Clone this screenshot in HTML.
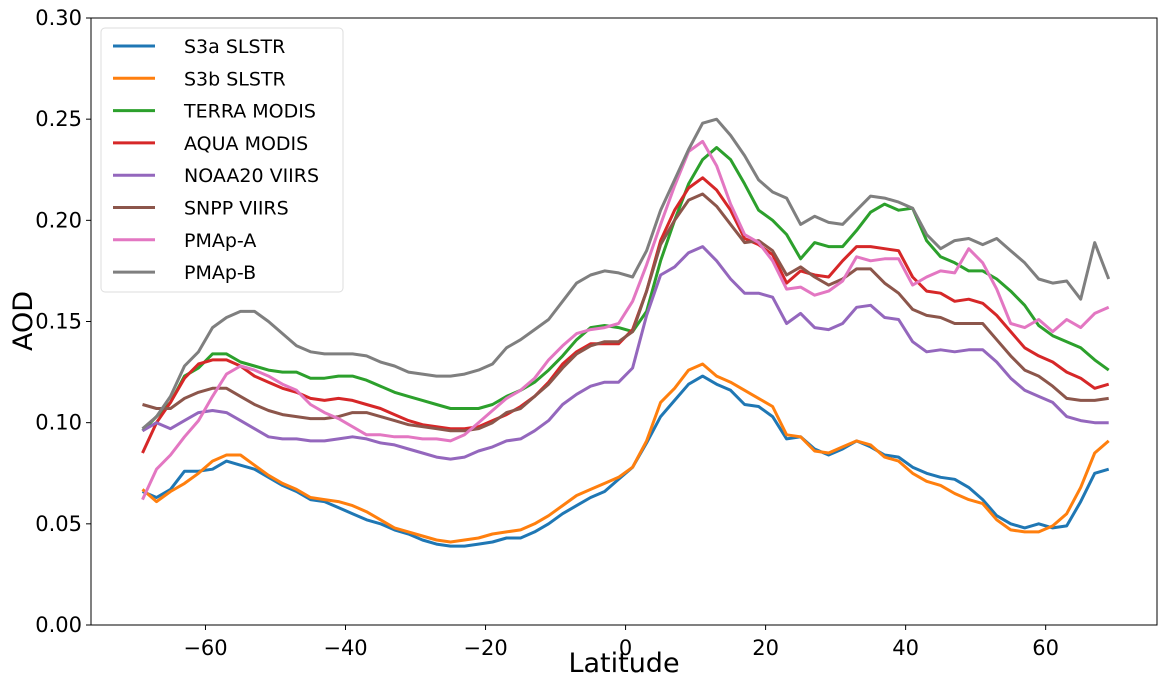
<!DOCTYPE html>
<html><head><meta charset="utf-8"><style>
body{margin:0;background:#fff;}
svg text{font-family:"DejaVu Sans","Liberation Sans",sans-serif;fill:#000;}
</style></head><body>
<svg id="chart" width="1168" height="683" xmlns="http://www.w3.org/2000/svg">
<g id="grid"></g>
<g id="series"></g>
<g id="axes"></g>
<g id="legend"></g>
</svg>
<script>
const lats = [];
for (let l = -69; l <= 69; l += 2) lats.push(l);
const seriesNames = ["S3a SLSTR","S3b SLSTR","TERRA MODIS","AQUA MODIS","NOAA20 VIIRS","SNPP VIIRS","PMAp-A","PMAp-B"];
const seriesColors = ["#1f77b4","#ff7f0e","#2ca02c","#d62728","#9467bd","#8c564b","#e377c2","#7f7f7f"];
const s3a = [0.066,0.063,0.067,0.076,0.076,0.077,0.081,0.079,0.077,0.073,0.069,0.066,0.062,0.061,0.058,0.055,0.052,0.050,0.047,0.045,0.042,0.040,0.039,0.039,0.040,0.041,0.043,0.043,0.046,0.050,0.055,0.059,0.063,0.066,0.072,0.078,0.090,0.103,0.111,0.119,0.123,0.119,0.116,0.109,0.108,0.103,0.092,0.093,0.087,0.084,0.087,0.091,0.088,0.084,0.083,0.078,0.075,0.073,0.072,0.068,0.062,0.054,0.050,0.048,0.050,0.048,0.049,0.061,0.075,0.077];
const s3b = [0.067,0.061,0.066,0.070,0.075,0.081,0.084,0.084,0.079,0.074,0.070,0.067,0.063,0.062,0.061,0.059,0.056,0.052,0.048,0.046,0.044,0.042,0.041,0.042,0.043,0.045,0.046,0.047,0.050,0.054,0.059,0.064,0.067,0.070,0.073,0.078,0.091,0.110,0.117,0.126,0.129,0.123,0.120,0.116,0.112,0.108,0.094,0.093,0.086,0.085,0.088,0.091,0.089,0.083,0.081,0.075,0.071,0.069,0.065,0.062,0.060,0.052,0.047,0.046,0.046,0.049,0.055,0.068,0.085,0.091];
const terra = [0.096,0.103,0.110,0.123,0.127,0.134,0.134,0.130,0.128,0.126,0.125,0.125,0.122,0.122,0.123,0.123,0.121,0.118,0.115,0.113,0.111,0.109,0.107,0.107,0.107,0.109,0.113,0.116,0.120,0.126,0.133,0.141,0.147,0.148,0.147,0.145,0.155,0.180,0.200,0.218,0.230,0.236,0.230,0.218,0.205,0.200,0.193,0.181,0.189,0.187,0.187,0.195,0.204,0.208,0.205,0.206,0.190,0.182,0.179,0.175,0.175,0.171,0.165,0.158,0.148,0.143,0.140,0.137,0.131,0.126];
const aqua = [0.085,0.100,0.110,0.122,0.129,0.131,0.131,0.128,0.123,0.120,0.117,0.115,0.112,0.111,0.112,0.111,0.109,0.107,0.104,0.101,0.099,0.098,0.097,0.097,0.098,0.101,0.104,0.108,0.113,0.120,0.129,0.135,0.139,0.139,0.139,0.146,0.165,0.190,0.205,0.216,0.221,0.215,0.205,0.191,0.188,0.183,0.169,0.175,0.173,0.172,0.180,0.187,0.187,0.186,0.185,0.172,0.165,0.164,0.160,0.161,0.159,0.153,0.145,0.137,0.133,0.130,0.125,0.122,0.117,0.119];
const noaa20 = [0.096,0.100,0.097,0.101,0.105,0.106,0.105,0.101,0.097,0.093,0.092,0.092,0.091,0.091,0.092,0.093,0.092,0.090,0.089,0.087,0.085,0.083,0.082,0.083,0.086,0.088,0.091,0.092,0.096,0.101,0.109,0.114,0.118,0.120,0.120,0.127,0.153,0.173,0.177,0.184,0.187,0.180,0.171,0.164,0.164,0.162,0.149,0.154,0.147,0.146,0.149,0.157,0.158,0.152,0.151,0.140,0.135,0.136,0.135,0.136,0.136,0.130,0.122,0.116,0.113,0.110,0.103,0.101,0.100,0.100];
const snpp = [0.109,0.107,0.107,0.112,0.115,0.117,0.117,0.113,0.109,0.106,0.104,0.103,0.102,0.102,0.103,0.105,0.105,0.103,0.101,0.099,0.098,0.097,0.096,0.096,0.097,0.100,0.105,0.107,0.113,0.119,0.127,0.134,0.138,0.140,0.140,0.145,0.165,0.188,0.200,0.210,0.213,0.207,0.198,0.189,0.190,0.185,0.173,0.177,0.172,0.168,0.171,0.176,0.176,0.169,0.164,0.156,0.153,0.152,0.149,0.149,0.149,0.141,0.133,0.126,0.123,0.118,0.112,0.111,0.111,0.112];
const pmapA = [0.062,0.077,0.084,0.093,0.101,0.113,0.124,0.128,0.126,0.123,0.119,0.116,0.109,0.105,0.102,0.098,0.094,0.094,0.093,0.093,0.092,0.092,0.091,0.094,0.100,0.106,0.112,0.116,0.122,0.131,0.138,0.144,0.146,0.147,0.149,0.160,0.178,0.198,0.217,0.234,0.239,0.227,0.208,0.193,0.189,0.180,0.166,0.167,0.163,0.165,0.170,0.182,0.180,0.181,0.181,0.168,0.172,0.175,0.174,0.186,0.179,0.166,0.149,0.147,0.151,0.145,0.151,0.147,0.154,0.157];
const pmapB = [0.097,0.103,0.113,0.128,0.135,0.147,0.152,0.155,0.155,0.150,0.144,0.138,0.135,0.134,0.134,0.134,0.133,0.130,0.128,0.125,0.124,0.123,0.123,0.124,0.126,0.129,0.137,0.141,0.146,0.151,0.160,0.169,0.173,0.175,0.174,0.172,0.185,0.205,0.220,0.235,0.248,0.250,0.242,0.232,0.220,0.214,0.211,0.198,0.202,0.199,0.198,0.205,0.212,0.211,0.209,0.206,0.193,0.186,0.190,0.191,0.188,0.191,0.185,0.179,0.171,0.169,0.170,0.161,0.189,0.171];
const allSeries = [s3a,s3b,terra,aqua,noaa20,snpp,pmapA,pmapB];
const xTicks = [-60,-40,-20,0,20,40,60];
const yTicks = [0,0.05,0.10,0.15,0.20,0.25,0.30];
const yTickLabels = ["0.00","0.05","0.10","0.15","0.20","0.25","0.30"];

const NS="http://www.w3.org/2000/svg";
const L=91, R=1157, T=18, B=625;
const xMin=-76.35, xMax=75.9, yMin=0, yMax=0.30;
function xs(v){return L+(v-xMin)/(xMax-xMin)*(R-L);}
function ys(v){return B-(v-yMin)/(yMax-yMin)*(B-T);}
function mk(tag,attrs,parent){const e=document.createElementNS(NS,tag);for(const k in attrs)e.setAttribute(k,attrs[k]);parent.appendChild(e);return e;}

const sg=document.getElementById('series');
allSeries.forEach((vals,i)=>{
  const d=vals.map((v,j)=>(j?'L':'M')+xs(lats[j]).toFixed(1)+','+ys(v).toFixed(1)).join(' ');
  const p=mk('path',{d:d,fill:'none',stroke:seriesColors[i],'stroke-width':3,'stroke-linejoin':'round'},sg);
  
  
});

const ag=document.getElementById('axes');
const frame=mk('rect',{x:L,y:T,width:R-L,height:B-T,fill:'none',stroke:'#000','stroke-width':1},ag);


xTicks.forEach(t=>{
  const x=xs(t);
  mk('line',{x1:x,x2:x,y1:B,y2:B+5,stroke:'#000','stroke-width':1},ag);
  const tx=mk('text',{x:x,y:B+30,'text-anchor':'middle','font-size':21},ag);
  tx.textContent=t<0?'\u2212'+(-t):String(t);
  
  
});
yTicks.forEach((t,i)=>{
  const y=ys(t);
  mk('line',{x1:L-5,x2:L,y1:y,y2:y,stroke:'#000','stroke-width':1},ag);
  const tx=mk('text',{x:L-9,y:y+7,'text-anchor':'end','font-size':21},ag);
  tx.textContent=yTickLabels[i];
  
  
});
const xt=mk('text',{x:624,y:672,'text-anchor':'middle','font-size':27},ag);
xt.textContent='Latitude';


const yt=mk('text',{x:0,y:0,'text-anchor':'middle','font-size':27,transform:'translate(32,321) rotate(-90)'},ag);
yt.textContent='AOD';



const lg=document.getElementById('legend');
const box=mk('rect',{x:101,y:28,width:242,height:264,rx:4,fill:'#fff','fill-opacity':0.8,stroke:'#ddd','stroke-width':1},lg);


seriesNames.forEach((n,i)=>{
  const y=46+i*32.3;
  const g=mk('g',{},lg);
  
  
  mk('line',{x1:113,x2:155,y1:y,y2:y,stroke:seriesColors[i],'stroke-width':3},g);
  const t=mk('text',{x:184,y:y+7,'font-size':19},g);
  t.textContent=n;
});
</script>
</body></html>
